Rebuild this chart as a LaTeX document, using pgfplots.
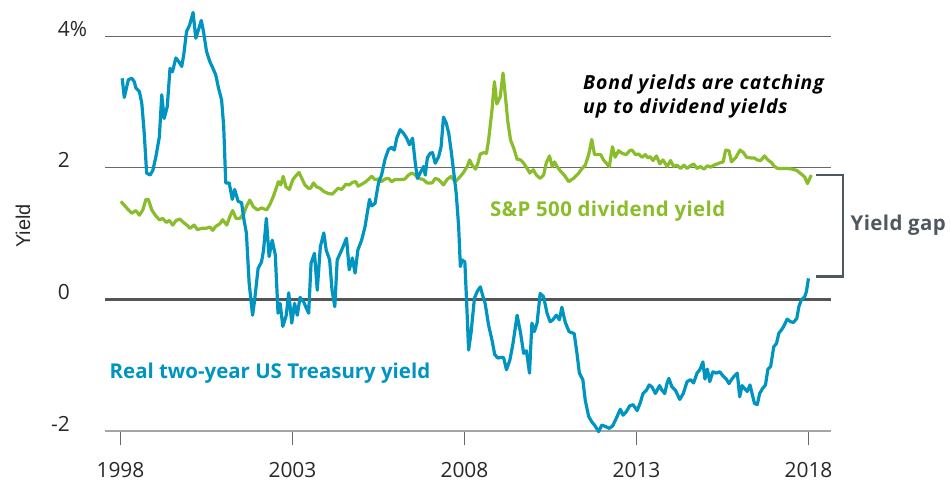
\documentclass[border=0pt]{standalone}
\usepackage{fontspec}
\setmainfont{Open Sans}
\newfontfamily\arialf{Liberation Sans}
\usepackage{pgfplots}
\pgfplotsset{compat=1.18}
\definecolor{blueC}{RGB}{0,148,192}
\definecolor{greenC}{RGB}{138,189,44}
\definecolor{gridC}{RGB}{105,105,105}
\definecolor{zeroC}{RGB}{85,85,85}
\definecolor{baseC}{RGB}{165,165,165}
\definecolor{brC}{RGB}{77,88,97}
\definecolor{tickT}{RGB}{40,40,40}
\begin{document}
\begin{tikzpicture}
\path[use as bounding box] (0,0) rectangle (950bp,481bp);
\begin{axis}[
  at={(105bp,50bp)}, anchor=south west,
  scale only axis, width=725.5bp, height=427.7bp,
  xmin=1997.55, xmax=2018.64, ymin=-2, ymax=4.5,
  axis line style={draw=none},
  clip=false,
  xtick={1998,2003,2008,2013,2018},
  xticklabels={1998,2003,2008,2013,2018},
  tick align=outside, xtick pos=left,
  major tick length=14bp,
  xtick style={draw=gridC, line width=0.8bp},
  ytick={-2,0,2,4}, yticklabels={-2,0,2,4\rlap{\%}},
  ytick style={draw=none},
  every tick label/.append style={inner sep=0pt, text=tickT, font=\fontsize{21}{21}\selectfont},
  xticklabel style={anchor=base, yshift=-32bp},
  yticklabel style={anchor=base east, xshift=-21bp},
]
\draw[baseC, line width=1.2bp] (axis cs:1997.55,-2) -- (axis cs:2018.64,-2);
\draw[gridC, line width=0.9bp] (axis cs:1997.55,2) -- (axis cs:2018.64,2);
\draw[gridC, line width=0.9bp] (axis cs:1997.55,4) -- (axis cs:2018.64,4);
\draw[zeroC, line width=2.4bp] (axis cs:1997.55,0) -- (axis cs:2018.64,0);

\addplot[greenC, line width=3.2bp, line join=round] coordinates {
(1998.01,1.49)(1998.13,1.42)(1998.23,1.36)(1998.33,1.31)(1998.45,1.35)(1998.55,1.28)
(1998.65,1.36)(1998.74,1.52)(1998.81,1.52)(1998.91,1.36)(1999.01,1.28)(1999.13,1.21)
(1999.23,1.23)(1999.33,1.17)(1999.42,1.20)(1999.52,1.13)(1999.62,1.20)(1999.73,1.22)
(1999.83,1.17)(1999.95,1.12)(2000.02,1.08)(2000.14,1.13)(2000.24,1.06)(2000.36,1.08)
(2000.49,1.08)(2000.60,1.10)(2000.68,1.05)(2000.77,1.11)(2000.89,1.15)(2000.97,1.21)
(2001.09,1.13)(2001.18,1.26)(2001.26,1.35)(2001.36,1.23)(2001.47,1.23)(2001.59,1.31)
(2001.66,1.41)(2001.76,1.51)(2001.86,1.41)(2001.98,1.36)(2002.10,1.39)(2002.25,1.36)
(2002.34,1.44)(2002.44,1.56)(2002.54,1.71)(2002.59,1.79)(2002.66,1.74)(2002.73,1.87)
(2002.81,1.71)(2002.91,1.67)(2003.01,1.82)(2003.12,1.89)(2003.19,1.93)(2003.27,1.84)
(2003.36,1.74)(2003.46,1.69)(2003.53,1.69)(2003.61,1.77)(2003.70,1.71)(2003.80,1.69)
(2003.91,1.64)(2004.04,1.61)(2004.16,1.60)(2004.23,1.64)(2004.33,1.69)(2004.43,1.67)
(2004.55,1.75)(2004.65,1.74)(2004.75,1.78)(2004.84,1.79)(2004.91,1.72)(2005.01,1.75)
(2005.11,1.78)(2005.20,1.82)(2005.30,1.87)(2005.40,1.82)(2005.50,1.83)(2005.59,1.79)
(2005.69,1.83)(2005.79,1.84)(2005.88,1.79)(2005.98,1.82)(2006.13,1.82)(2006.27,1.83)
(2006.37,1.89)(2006.47,1.92)(2006.57,1.89)(2006.67,1.84)(2006.81,1.82)(2006.91,1.77)
(2007.06,1.77)(2007.15,1.84)(2007.25,1.82)(2007.39,1.74)(2007.49,1.82)(2007.61,1.87)
(2007.73,1.79)(2007.83,1.84)(2007.96,1.92)(2008.08,2.02)(2008.15,2.12)(2008.22,2.04)
(2008.32,1.98)(2008.39,2.07)(2008.46,2.21)(2008.56,2.23)(2008.64,2.22)(2008.70,2.42)
(2008.80,2.88)(2008.87,3.31)(2008.94,2.97)(2009.04,3.08)(2009.12,3.44)(2009.19,3.08)
(2009.26,2.70)(2009.34,2.42)(2009.43,2.30)(2009.53,2.13)(2009.63,2.12)(2009.72,2.07)
(2009.82,1.99)(2009.90,1.92)(2010.00,1.97)(2010.09,1.89)(2010.20,1.84)(2010.30,1.89)
(2010.38,2.08)(2010.47,2.18)(2010.55,2.02)(2010.62,2.09)(2010.69,2.02)(2010.79,1.95)
(2010.90,1.89)(2011.03,1.79)(2011.17,1.84)(2011.32,1.92)(2011.42,1.99)(2011.51,2.04)
(2011.61,2.20)(2011.70,2.43)(2011.78,2.20)(2011.88,2.20)(2011.96,2.20)(2012.04,2.12)
(2012.14,2.06)(2012.21,2.02)(2012.30,2.32)(2012.38,2.16)(2012.48,2.26)(2012.58,2.22)
(2012.70,2.20)(2012.80,2.26)(2012.87,2.27)(2012.97,2.20)(2013.06,2.21)(2013.16,2.16)
(2013.26,2.20)(2013.33,2.15)(2013.40,2.17)(2013.48,2.11)(2013.58,2.18)(2013.68,2.06)
(2013.77,2.12)(2013.89,2.02)(2013.99,2.11)(2014.08,2.02)(2014.18,2.04)(2014.28,1.99)
(2014.38,2.04)(2014.47,1.99)(2014.57,2.03)(2014.66,2.06)(2014.76,1.99)(2014.86,2.02)
(2014.96,1.98)(2015.06,2.03)(2015.15,2.01)(2015.25,2.04)(2015.35,2.06)(2015.45,2.08)
(2015.52,2.09)(2015.59,2.27)(2015.69,2.26)(2015.76,2.09)(2015.88,2.15)(2016.01,2.27)
(2016.11,2.23)(2016.20,2.16)(2016.32,2.15)(2016.42,2.15)(2016.51,2.12)(2016.61,2.11)
(2016.72,2.18)(2016.82,2.12)(2016.92,2.08)(2017.01,2.02)(2017.11,1.99)(2017.24,1.99)
(2017.38,1.99)(2017.53,1.98)(2017.66,1.96)(2017.78,1.91)(2017.89,1.86)(2017.97,1.76)
(2018.08,1.89)
};

\addplot[blueC, line width=3.2bp, line join=round] coordinates {
(1998.05,3.36)(1998.11,3.07)(1998.23,3.34)(1998.33,3.36)(1998.40,3.31)(1998.45,3.21)
(1998.55,3.16)(1998.62,2.98)(1998.69,2.53)(1998.76,1.92)(1998.86,1.89)(1998.94,1.96)
(1999.03,2.17)(1999.13,2.47)(1999.20,3.11)(1999.27,2.75)(1999.36,2.93)(1999.44,3.51)
(1999.51,3.46)(1999.61,3.67)(1999.70,3.61)(1999.78,3.54)(1999.84,3.72)(1999.92,4.07)
(2000.01,4.17)(2000.11,4.36)(2000.19,3.97)(2000.28,4.12)(2000.35,4.24)(2000.42,4.05)
(2000.50,3.77)(2000.60,3.61)(2000.69,3.51)(2000.77,3.41)(2000.85,3.21)(2000.94,3.03)
(2001.00,2.63)(2001.06,1.77)(2001.16,1.77)(2001.25,1.52)(2001.32,1.67)(2001.42,1.49)
(2001.52,1.47)(2001.59,1.21)(2001.66,1.01)(2001.74,0.25)(2001.84,-0.24)(2001.90,-0.01)
(2002.00,0.47)(2002.10,0.57)(2002.16,0.75)(2002.24,1.23)(2002.32,0.65)(2002.41,0.90)
(2002.50,0.68)(2002.58,-0.21)(2002.64,-0.06)(2002.72,-0.41)(2002.82,-0.24)(2002.89,0.10)
(2002.98,-0.36)(2003.06,-0.06)(2003.14,-0.24)(2003.22,0.03)(2003.32,-0.03)(2003.40,-0.13)
(2003.47,-0.21)(2003.54,0.55)(2003.64,0.70)(2003.72,0.14)(2003.81,0.80)(2003.91,1.01)
(2003.98,0.75)(2004.08,0.60)(2004.15,0.14)(2004.23,-0.11)(2004.30,0.60)(2004.43,0.75)
(2004.57,0.93)(2004.65,0.45)(2004.74,0.63)(2004.82,0.40)(2004.90,0.75)(2005.01,0.90)
(2005.11,1.11)(2005.24,1.52)(2005.30,1.42)(2005.40,1.46)(2005.50,1.77)(2005.59,1.89)
(2005.69,2.13)(2005.79,2.28)(2005.88,2.31)(2005.96,2.27)(2006.03,2.45)(2006.13,2.58)
(2006.22,2.53)(2006.32,2.45)(2006.40,2.35)(2006.49,2.45)(2006.57,2.07)(2006.63,1.84)
(2006.71,1.92)(2006.81,2.02)(2006.86,1.89)(2006.92,2.15)(2007.00,2.22)(2007.07,2.23)
(2007.15,2.07)(2007.25,2.17)(2007.32,2.32)(2007.39,2.77)(2007.47,2.68)(2007.54,2.53)
(2007.61,2.27)(2007.69,1.92)(2007.76,1.61)(2007.83,1.11)(2007.88,0.50)(2007.93,0.60)
(2008.01,0.57)(2008.06,-0.01)(2008.12,-0.77)(2008.19,-0.51)(2008.29,0.02)(2008.37,0.12)
(2008.46,0.19)(2008.54,0.04)(2008.60,-0.06)(2008.70,-0.39)(2008.80,-0.62)(2008.88,-0.84)
(2008.97,-0.89)(2009.10,-0.88)(2009.14,-0.89)(2009.22,-1.07)(2009.32,-0.92)(2009.41,-0.67)
(2009.53,-0.24)(2009.63,-0.51)(2009.72,-0.82)(2009.80,-0.78)(2009.89,-1.12)(2009.96,-0.36)
(2010.03,-0.49)(2010.11,-0.36)(2010.20,0.09)(2010.30,0.04)(2010.40,-0.21)(2010.49,-0.34)
(2010.57,-0.31)(2010.67,-0.24)(2010.76,-0.31)(2010.83,-0.12)(2010.93,-0.35)(2011.04,-0.49)
(2011.19,-0.52)(2011.27,-0.82)(2011.34,-1.12)(2011.44,-1.22)(2011.51,-1.53)(2011.61,-1.78)
(2011.70,-1.86)(2011.78,-1.91)(2011.90,-2.01)(2011.99,-1.91)(2012.09,-1.93)(2012.21,-1.96)
(2012.31,-1.92)(2012.41,-1.81)(2012.53,-1.67)(2012.61,-1.76)(2012.70,-1.71)(2012.80,-1.62)
(2012.90,-1.60)(2013.02,-1.69)(2013.11,-1.57)(2013.19,-1.43)(2013.29,-1.38)(2013.37,-1.30)
(2013.45,-1.33)(2013.55,-1.43)(2013.67,-1.31)(2013.74,-1.38)(2013.82,-1.43)(2013.89,-1.27)
(2013.94,-1.20)(2014.03,-1.33)(2014.13,-1.38)(2014.26,-1.52)(2014.36,-1.43)(2014.47,-1.25)
(2014.57,-1.22)(2014.66,-1.27)(2014.76,-1.12)(2014.84,-1.07)(2014.93,-0.95)(2014.99,-1.21)
(2015.06,-1.06)(2015.13,-1.25)(2015.22,-1.10)(2015.32,-1.12)(2015.42,-1.10)(2015.51,-1.16)
(2015.61,-1.21)(2015.69,-1.28)(2015.76,-1.22)(2015.85,-1.16)(2015.93,-1.12)(2016.00,-1.48)
(2016.07,-1.31)(2016.15,-1.36)(2016.22,-1.40)(2016.30,-1.30)(2016.36,-1.43)(2016.43,-1.58)
(2016.51,-1.60)(2016.58,-1.43)(2016.67,-1.35)(2016.75,-1.30)(2016.82,-1.06)(2016.90,-1.02)
(2016.99,-0.72)(2017.07,-0.67)(2017.14,-0.51)(2017.22,-0.46)(2017.28,-0.41)(2017.38,-0.30)
(2017.48,-0.34)(2017.56,-0.35)(2017.66,-0.29)(2017.72,-0.11)(2017.79,-0.01)(2017.89,0.04)
(2017.94,0.12)(2018.00,0.32)
};
\end{axis}
% bracket
\draw[brC, line width=2.6bp] (816bp,306bp) -- (843bp,306bp) -- (843bp,204.3bp) -- (816bp,204.3bp);
% texts
\node[anchor=base west, inner sep=0pt, text=brC, font=\bfseries\fontsize{20.5}{21}\selectfont\addfontfeatures{LetterSpace=2}] at (850.5bp,250.3bp) {Yield gap};
\node[anchor=base west, inner sep=0pt, font=\bfseries\itshape\fontsize{19.5}{20}\selectfont\addfontfeatures{LetterSpace=4.5}] at (583bp,391.7bp) {Bond yields are catching};
\node[anchor=base west, inner sep=0pt, font=\bfseries\itshape\fontsize{19.5}{20}\selectfont\addfontfeatures{LetterSpace=4.5}] at (583bp,367.7bp) {up to dividend yields};
\node[anchor=base west, inner sep=0pt, text=greenC, font=\bfseries\fontsize{20.5}{21}\selectfont\addfontfeatures{LetterSpace=2}] at (490bp,264.3bp) {S\&P 500 dividend yield};
\node[anchor=base west, inner sep=0pt, text=blueC, font=\bfseries\fontsize{20.5}{21}\selectfont] at (109.5bp,102.7bp) {Real two-year US Treasury yield};
\node[rotate=90, inner sep=0pt, text=tickT, font=\arialf\fontsize{20}{20}\selectfont] at (23bp,255bp) {Yield};
\end{tikzpicture}
\end{document}
